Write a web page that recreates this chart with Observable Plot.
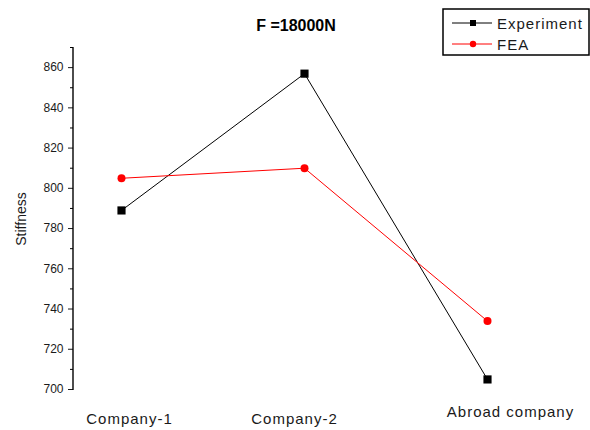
<!DOCTYPE html>
<html><head><meta charset="utf-8">
<script src="https://cdn.jsdelivr.net/npm/d3@7"></script>
<script src="https://cdn.jsdelivr.net/npm/@observablehq/plot@0.6"></script>
<style>body{margin:0;background:#fff} svg{display:block}</style>
</head><body><div id="chart"></div>
<script>
const categories = ["Company-1", "Company-2", "Abroad company"];
const experiment = [789, 857, 705];
const fea = [805, 810, 734];
const seriesNames = ["Experiment", "FEA"];
const seriesColors = ["#000000", "#ff0000"];
const yMajorTicks = [700, 720, 740, 760, 780, 800, 820, 840, 860];
const yMinorTicks = [710, 730, 750, 770, 790, 810, 830, 850, 870];
const title = "F =18000N";
const yLabel = "Stiffness";

const rows = [];
categories.forEach((c, i) => {
  rows.push({cat: c, series: seriesNames[0], value: experiment[i]});
  rows.push({cat: c, series: seriesNames[1], value: fea[i]});
});
const expRows = rows.filter(d => d.series === seriesNames[0]);
const feaRows = rows.filter(d => d.series === seriesNames[1]);

const FONT = "'Liberation Sans', Arial, sans-serif";
// per-label offsets (style only)
const labelOffsets = [{dx: 8, dy: 30}, {dx: -10, dy: 30}, {dx: 23, dy: 23}];

const labelMarks = categories.map((c, i) => Plot.text([c], {
  x: d => d, frameAnchor: "bottom", dx: labelOffsets[i].dx, dy: labelOffsets[i].dy,
  text: d => d, fontSize: 15, fill: "#1a1a1a", lineAnchor: "middle"
}));

const svg = Plot.plot({
  width: 590, height: 430,
  marginLeft: 73, marginRight: 103, insetLeft: 47,
  marginTop: 47, marginBottom: 41,
  style: {fontFamily: FONT, background: "#fff", overflow: "visible"},
  x: {type: "point", domain: categories, padding: 0, axis: null},
  y: {domain: [700, 870], axis: null},
  marks: [
    Plot.axisY({ticks: yMinorTicks, tickSize: 3, tickFormat: () => "", label: null}),
    Plot.axisY({ticks: yMajorTicks, tickSize: 5, tickPadding: 5, fontSize: 12, label: null, color: "#1a1a1a"}),
    Plot.line(expRows, {x: "cat", y: "value", stroke: seriesColors[0], strokeWidth: 1}),
    Plot.line(feaRows, {x: "cat", y: "value", stroke: seriesColors[1], strokeWidth: 1}),
    Plot.dot(expRows, {x: "cat", y: "value", symbol: "square", r: 4.6, fill: seriesColors[0], stroke: "none"}),
    Plot.dot(feaRows, {x: "cat", y: "value", symbol: "circle", r: 4, fill: seriesColors[1], stroke: "none"}),
    ...labelMarks
  ]
});

const root = d3.select(svg);
root.selectAll("g[aria-label='text'] text").attr("letter-spacing", 1);
const yScale = svg.scale("y");
// axis line
root.append("line")
  .attr("x1", 73).attr("x2", 73)
  .attr("y1", yScale.range[1]).attr("y2", yScale.range[0] + 1)
  .attr("stroke", "#000").attr("stroke-width", 1.4);

// title
root.append("text").attr("x", 296).attr("y", 25)
  .attr("text-anchor", "middle").attr("dominant-baseline", "central")
  .attr("font-family", FONT).attr("font-weight", "bold").attr("font-size", 16)
  .text(title);

// y label
root.append("text").attr("transform", "translate(21,219) rotate(-90)")
  .attr("text-anchor", "middle").attr("dominant-baseline", "central")
  .attr("font-family", FONT).attr("font-size", 14).attr("fill", "#1a1a1a")
  .text(yLabel);

// legend
const lg = root.append("g");
lg.append("rect").attr("x", 443).attr("y", 9).attr("width", 146).attr("height", 46)
  .attr("fill", "#fff").attr("stroke", "#000").attr("stroke-width", 1.5);
seriesNames.forEach((name, i) => {
  const y = 23 + i * 21;
  lg.append("line").attr("x1", 452).attr("x2", 492).attr("y1", y).attr("y2", y)
    .attr("stroke", seriesColors[i]).attr("stroke-width", 1);
  if (i === 0) {
    lg.append("rect").attr("x", 470).attr("y", y - 3).attr("width", 6).attr("height", 6).attr("fill", seriesColors[i]);
  } else {
    lg.append("circle").attr("cx", 473).attr("cy", y).attr("r", 3.2).attr("fill", seriesColors[i]);
  }
  lg.append("text").attr("x", 497).attr("y", y).attr("dominant-baseline", "central")
    .attr("text-anchor", "start")
    .attr("font-family", FONT).attr("font-size", 15).attr("fill", "#1a1a1a")
    .attr("letter-spacing", 1).text(name);
});

document.getElementById("chart").appendChild(svg);
</script>
</body></html>
